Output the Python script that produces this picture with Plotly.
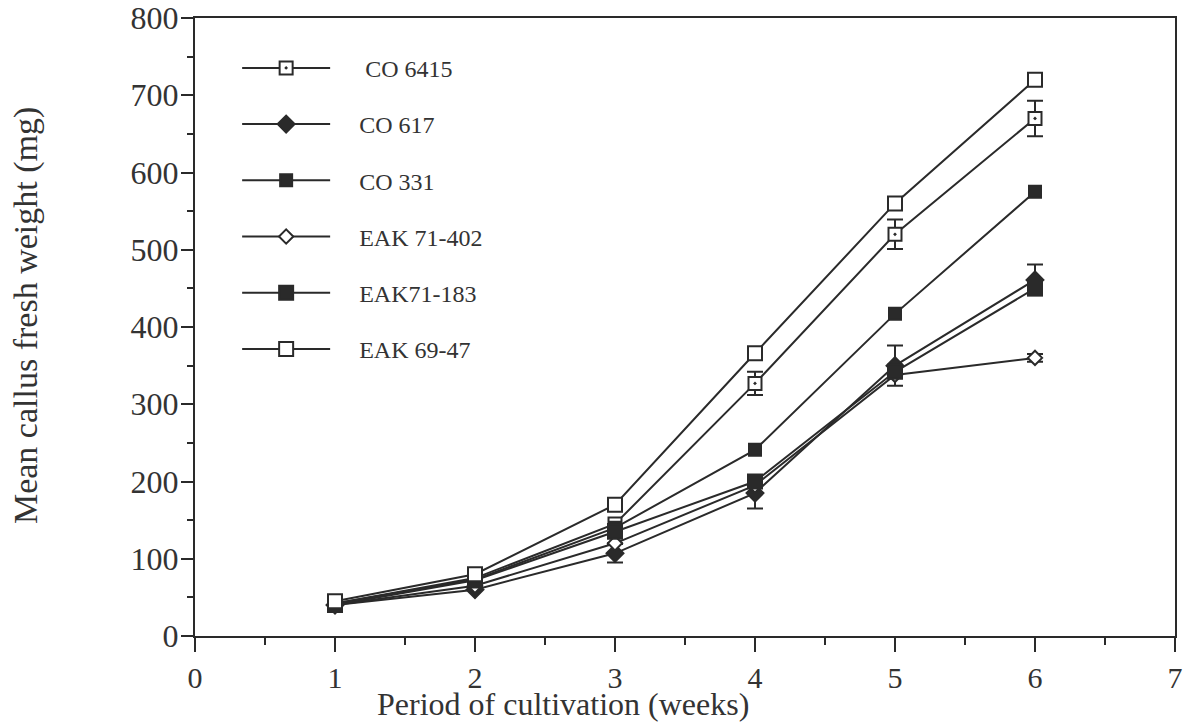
import plotly.graph_objects as go

weeks = [1, 2, 3, 4, 5, 6]

names = ["CO 6415", "CO 617", "CO 331", "EAK 71-402", "EAK71-183", "EAK 69-47"]

co6415 = [42, 75, 145, 327, 520, 670]
co617 = [40, 60, 107, 185, 350, 461]
co331 = [42, 73, 140, 241, 417, 575]
eak71_402 = [40, 65, 120, 195, 338, 360]
eak71_183 = [40, 72, 135, 200, 342, 450]
eak69_47 = [45, 80, 170, 366, 560, 720]

co6415_err = [0, 0, 0, 15, 19, 23]
co617_err = [0, 0, 12, 20, 26, 20]
eak71_402_err = [0, 0, 0, 0, 0, 5]

ink = "#2a2a2a"
# (name, values, errors, symbol, size, fill)
series = [
    (names[0], co6415, co6415_err, "square-dot", 13, "white"),
    (names[1], co617, co617_err, "diamond", 13, ink),
    (names[2], co331, None, "square", 12, ink),
    (names[3], eak71_402, eak71_402_err, "diamond", 11, "white"),
    (names[4], eak71_183, None, "square", 14, ink),
    (names[5], eak69_47, None, "square", 14, "white"),
]

pad = "\u00a0" * 4
fig = go.Figure()
for i, (nm, ys, err, sym, sz, fill) in enumerate(series):
    kw = {}
    if err is not None:
        kw["error_y"] = dict(type="data", array=err, visible=True, color=ink,
                             thickness=2, width=8)
    fig.add_trace(go.Scatter(
        x=weeks, y=ys, name=pad + ("\u00a0" if i == 0 else "") + nm,
        mode="lines+markers",
        line=dict(color=ink, width=2),
        marker=dict(symbol=sym, size=sz, color=fill, line=dict(color=ink, width=2)),
        legendgroup=f"g{i}",
        **kw,
    ))

serif = "Liberation Serif"
fig.update_layout(
    width=1192, height=724,
    margin=dict(l=195, r=17, t=18, b=88, autoexpand=False),
    paper_bgcolor="white", plot_bgcolor="white",
    font=dict(family=serif, color="#333"),
    showlegend=True,
    legend=dict(x=0.043, y=0.955, xanchor="left", yanchor="top",
                font=dict(family=serif, size=24, color="#333"),
                itemwidth=88, tracegroupgap=22, bgcolor="rgba(0,0,0,0)"),
    xaxis=dict(range=[0, 7], dtick=1, tick0=0, showgrid=False, zeroline=False,
               showline=True, linecolor=ink, linewidth=2, mirror=True,
               ticks="outside", ticklen=14, tickwidth=2, tickcolor=ink,
               ticklabeloverflow="allow", automargin=False,
               tickfont=dict(family=serif, size=30, color="#333"),
               minor=dict(dtick=0.5, ticks="outside", ticklen=7, tickwidth=2, tickcolor=ink)),
    yaxis=dict(range=[0, 800], dtick=100, tick0=0, showgrid=False, zeroline=False,
               showline=True, linecolor=ink, linewidth=2, mirror=True,
               ticks="outside", ticklen=12, tickwidth=2, tickcolor=ink,
               ticklabelstandoff=-4, ticklabeloverflow="allow", automargin=False,
               tickfont=dict(family=serif, size=32, color="#333"),
               minor=dict(dtick=50, ticks="outside", ticklen=6, tickwidth=2, tickcolor=ink)),
    annotations=[
        dict(text="Period of cultivation (weeks)", xref="paper", yref="paper",
             x=0.3755, y=-0.110, xanchor="center", yanchor="middle", showarrow=False,
             font=dict(family=serif, size=32, color="#333")),
        dict(text="Mean callus fresh weight (mg)", xref="paper", yref="paper",
             x=-0.1724, y=0.5178, xanchor="center", yanchor="middle", showarrow=False,
             textangle=-90, font=dict(family=serif, size=34, color="#333")),
    ],
)

fig.write_html("out.html", config={"displayModeBar": False},
               post_script="document.body.style.margin='0';")
